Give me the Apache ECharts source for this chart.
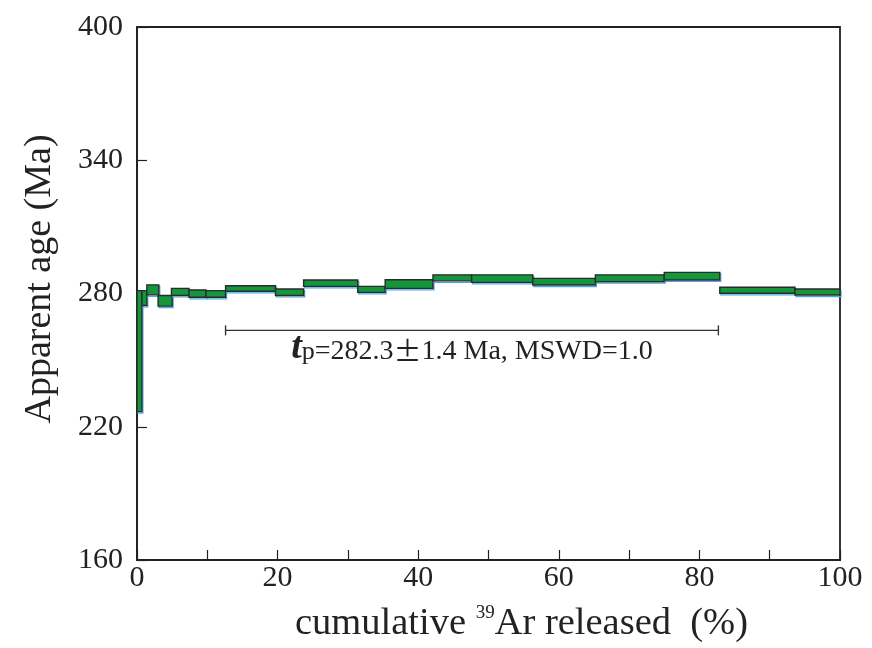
<!DOCTYPE html>
<html><head><meta charset="utf-8">
<script src="https://cdn.jsdelivr.net/npm/echarts@6/dist/echarts.min.js"></script>
<style>html,body{margin:0;padding:0;background:#fff}#c{width:872px;height:648px}</style>
</head><body><div id="c"></div>
<script>
// Step boundaries (cumulative 39Ar %), and age box top/bottom (Ma)
var stepStart = [0.0, 0.7, 1.4, 3.0, 4.9, 7.4, 9.8, 12.6, 19.7, 23.7, 31.4, 35.3, 42.1, 47.6, 56.3, 65.2, 75.0, 82.9, 93.6];
var stepEnd   = [0.7, 1.4, 3.1, 5.0, 7.4, 9.8, 12.6, 19.7, 23.7, 31.4, 35.3, 42.1, 47.6, 56.3, 65.2, 75.0, 82.9, 93.6, 100.0];
var ageHigh   = [281.3, 281.3, 283.9, 279.1, 282.3, 281.6, 281.3, 283.5, 282.0, 286.1, 283.2, 286.2, 288.4, 288.4, 286.8, 288.4, 289.5, 282.8, 282.0];
var ageLow    = [226.8, 274.6, 279.4, 274.3, 279.1, 278.3, 278.3, 281.0, 279.1, 283.2, 280.5, 282.3, 285.7, 285.0, 283.8, 285.3, 286.1, 280.1, 279.3];
// Plateau bar
var plateauFrom = 12.6, plateauTo = 82.7, plateauLevel = 263.4;
var xTicks = [0, 20, 40, 60, 80, 100];
var yTicks = [160, 220, 280, 340, 400];

var steps = stepStart.map(function (s, i) { return [s, stepEnd[i], ageLow[i], ageHigh[i]]; });
var serif = '"Liberation Serif","DejaVu Serif",serif';

var chart = echarts.init(document.getElementById('c'));
chart.setOption({
  animation: false,
  grid: { left: 137, right: 32, top: 27, bottom: 86, show: true, borderColor: '#222', borderWidth: 1.8, backgroundColor: 'transparent' },
  xAxis: {
    type: 'value', min: 0, max: 100, interval: 10,
    axisLine: { lineStyle: { color: '#222', width: 1.8 } },
    axisTick: { inside: true, length: 10, lineStyle: { color: '#222', width: 1.2 } },
    splitLine: { show: false },
    axisLabel: { fontFamily: serif, fontSize: 30, color: '#222', margin: 3,
      formatter: function (v) { return xTicks.indexOf(v) >= 0 ? String(v) : ''; } },
    name: '{a|cumulative }{s|39}{a|Ar released  (%)}',
    nameLocation: 'middle', nameGap: 44,
    nameTextStyle: { padding: [0, 0, 0, 66], rich: {
      a: { fontFamily: serif, fontSize: 38.5, color: '#222' },
      s: { fontFamily: serif, fontSize: 19, color: '#222', verticalAlign: 'top', padding: [0, 0, 18, 0] } } }
  },
  yAxis: {
    type: 'value', min: 160, max: 400, interval: 60,
    axisLine: { lineStyle: { color: '#222', width: 1.8 } },
    axisTick: { inside: true, length: 10, lineStyle: { color: '#222', width: 1.2 } },
    splitLine: { show: false },
    axisLabel: { fontFamily: serif, fontSize: 30, color: '#222', margin: 14,
      formatter: function (v) { return yTicks.indexOf(v) >= 0 ? String(v) : ''; } },
    name: 'Apparent age (Ma)', nameLocation: 'middle', nameGap: 78,
    nameTextStyle: { fontFamily: serif, fontSize: 38, color: '#222', padding: [0, 0, 0, 29] }
  },
  series: [
    {
      type: 'custom', data: steps, z: 3,
      renderItem: function (params, api) {
        var p1 = api.coord([api.value(0), api.value(3)]);
        var p2 = api.coord([api.value(1), api.value(2)]);
        var w = p2[0] - p1[0], h = Math.max(p2[1] - p1[1], 1);
        return { type: 'group', children: [
          { type: 'rect', shape: { x: p1[0] + 1, y: p1[1] + 1.5, width: w, height: h },
            style: { fill: 'none', stroke: '#4aa6e6', lineWidth: 1.2 } },
          { type: 'rect', shape: { x: p1[0], y: p1[1], width: w, height: h },
            style: { fill: '#14963c', stroke: '#2b2b2b', lineWidth: 1.4 } }
        ] };
      }
    },
    {
      type: 'custom', data: [[plateauFrom, plateauTo, plateauLevel]], z: 4,
      renderItem: function (params, api) {
        var a = api.coord([api.value(0), api.value(2)]);
        var b = api.coord([api.value(1), api.value(2)]);
        var cx = (a[0] + b[0]) / 2;
        return { type: 'group', children: [
          { type: 'line', shape: { x1: a[0], y1: a[1], x2: b[0], y2: b[1] }, style: { stroke: '#333', lineWidth: 1.4 } },
          { type: 'line', shape: { x1: a[0], y1: a[1] - 5, x2: a[0], y2: a[1] + 5 }, style: { stroke: '#333', lineWidth: 1.4 } },
          { type: 'line', shape: { x1: b[0], y1: b[1] - 5, x2: b[0], y2: b[1] + 5 }, style: { stroke: '#333', lineWidth: 1.4 } },
          { type: 'text', x: cx, y: a[1] + 18, style: {
            text: '{t|t}{p|p}{n|=282.3}{pm|\u00b1}{n|1.4 Ma, MSWD=1.0}',
            align: 'center', verticalAlign: 'middle',
            rich: {
              t: { fontFamily: serif, fontSize: 38, fontStyle: 'italic', fontWeight: 'bold', fill: '#222' },
              p: { fontFamily: serif, fontSize: 26, fill: '#222', padding: [8, 0, 0, 0] },
              n: { fontFamily: serif, fontSize: 28, fill: '#222', padding: [6, 0, 0, 0] },
              pm: { fontFamily: '"Noto Sans CJK SC"', fontSize: 28, fill: '#222', padding: [6, 0, 0, 0] }
            } } }
        ] };
      }
    }
  ]
});
</script></body></html>
